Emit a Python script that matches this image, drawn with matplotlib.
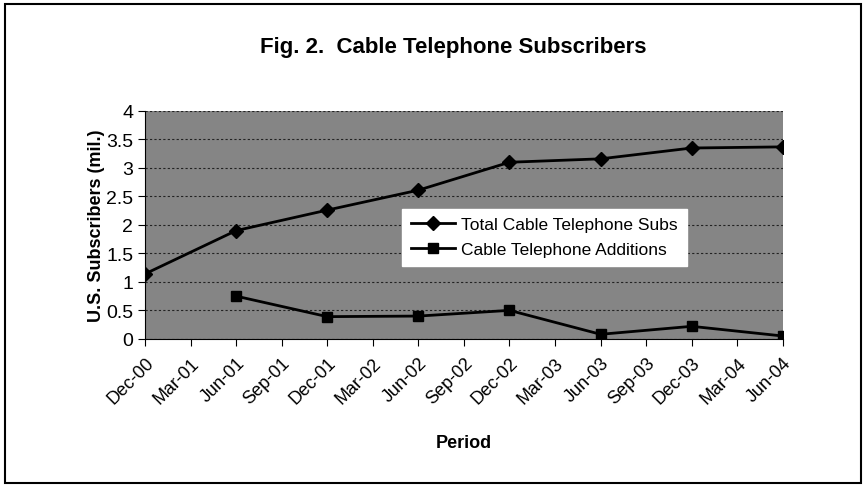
import numpy as np
import matplotlib.pyplot as plt
from matplotlib.patches import Rectangle

plt.rcParams['font.family'] = ['Liberation Sans', 'DejaVu Sans']

periods = ["Dec-00", "Mar-01", "Jun-01", "Sep-01", "Dec-01", "Mar-02", "Jun-02",
           "Sep-02", "Dec-02", "Mar-03", "Jun-03", "Sep-03", "Dec-03", "Mar-04", "Jun-04"]

# semi-annual observations
obs_periods = ["Dec-00", "Jun-01", "Dec-01", "Jun-02", "Dec-02", "Jun-03", "Dec-03", "Jun-04"]
total_subs = [1.14, 1.90, 2.26, 2.61, 3.10, 3.16, 3.35, 3.37]
additions = [None, 0.75, 0.39, 0.40, 0.50, 0.08, 0.22, 0.05]

x_obs = [periods.index(p) for p in obs_periods]
add_x = [x for x, v in zip(x_obs, additions) if v is not None]
add_y = [v for v in additions if v is not None]

fig = plt.figure(figsize=(8.66, 4.89), dpi=100)
ax = fig.add_axes([0.1674, 0.305, 0.7366, 0.466])

ax.set_facecolor('#858585')
ax.plot(x_obs, total_subs, color='black', lw=2, marker='D', ms=7,
        label='Total Cable Telephone Subs')
ax.plot(add_x, add_y, color='black', lw=2, marker='s', ms=7,
        label='Cable Telephone Additions')

ax.set_xlim(0, len(periods) - 1)
ax.set_ylim(0, 4)
ax.set_yticks(np.arange(0, 4.01, 0.5))
ax.set_yticklabels(['0', '0.5', '1', '1.5', '2', '2.5', '3', '3.5', '4'], fontsize=14)
ax.set_xticks(range(len(periods)))
ax.set_xticklabels(periods, rotation=45, ha='right', rotation_mode='anchor', fontsize=13)
ax.tick_params(axis='both', direction='out', length=5, color='black')
ax.tick_params(axis='x', pad=6)
ax.grid(axis='y', color='#222222', ls=(0, (2, 2)), lw=0.8)
ax.set_axisbelow(True)
for side in ['top', 'right']:
    ax.spines[side].set_visible(False)

ax.set_ylabel('U.S. Subscribers (mil.)', fontsize=13, fontweight='bold')
ax.yaxis.set_label_coords(-0.062, 0.5)
ax.set_xlabel('Period', fontsize=13, fontweight='bold', labelpad=19)
fig.text(0.523, 0.903, 'Fig. 2.  Cable Telephone Subscribers', ha='center', va='center',
         fontsize=16, fontweight='bold')

leg = ax.legend(loc='upper left', bbox_to_anchor=(0.39, 0.61), fontsize=12.5,
                frameon=True, fancybox=False, edgecolor='white', framealpha=1,
                handlelength=2.5, handletextpad=0.4, borderpad=0.5, labelspacing=0.55)

fig.patches.append(Rectangle((0.006, 0.01), 0.988, 0.98, transform=fig.transFigure,
                             fill=False, edgecolor='black', lw=1.5))

fig.savefig('out.png', dpi=100)
